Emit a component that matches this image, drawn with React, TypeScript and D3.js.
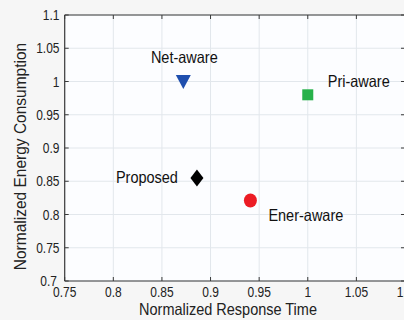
import React, { useEffect } from 'react';
import * as d3 from 'd3';

// schemes and their normalized (response time, energy) values
const schemes = ['Net-aware', 'Pri-aware', 'Proposed', 'Ener-aware'];
const responseTime = [0.872, 1.0, 0.886, 0.941];
const energy = [1.0, 0.98, 0.855, 0.821];
const markerShapes = ['triangle', 'square', 'diamond', 'circle'];
const markerColors = ['#1f4fae', '#27b14a', '#000000', '#ec1c24'];

const xTicks = [0.75, 0.8, 0.85, 0.9, 0.95, 1, 1.05, 1.1];
const yTicks = [0.7, 0.75, 0.8, 0.85, 0.9, 0.95, 1, 1.05, 1.1];

const W = 404;
const H = 320;
const left = 64.7;
const right = 405;
const top = 15;
const bottom = 281;

const font = 'Arial, "Liberation Sans", Helvetica, sans-serif';

// label offsets relative to each marker (anchor, dx, dy)
const labelPos: [string, number, number][] = [
  ['middle', 1, -19],
  ['start', 20, -8],
  ['end', -19, 5],
  ['start', 18, 20],
];

function Marker({ shape, x, y, color }: { shape: string; x: number; y: number; color: string }) {
  if (shape === 'triangle') {
    const p = d3.path();
    p.moveTo(x - 7.5, y - 6.5);
    p.lineTo(x + 7.5, y - 6.5);
    p.lineTo(x, y + 7.5);
    p.closePath();
    return <path d={p.toString()} fill={color} />;
  }
  if (shape === 'square') {
    return <rect x={x - 5.5} y={y - 5.5} width={11} height={11} fill={color} />;
  }
  if (shape === 'diamond') {
    const p = d3.path();
    p.moveTo(x, y - 8.5);
    p.lineTo(x + 6.5, y);
    p.lineTo(x, y + 8.5);
    p.lineTo(x - 6.5, y);
    p.closePath();
    return <path d={p.toString()} fill={color} />;
  }
  return <ellipse cx={x} cy={y} rx={6.5} ry={7} fill={color} />;
}

export default function App() {
  useEffect(() => {
    document.body.style.margin = '0';
  }, []);

  const x = d3.scaleLinear().domain([0.75, 1.1]).range([left, right]);
  const y = d3.scaleLinear().domain([0.7, 1.1]).range([bottom, top]);
  const fmt = (d: number) => String(+d.toFixed(2));

  return (
    <svg width={W} height={H} style={{ display: 'block', background: '#f6f6f6' }}>
      <rect x={left} y={top} width={right - left} height={bottom - top} fill="#fcfdff" />
      {/* grid */}
      {xTicks.map(t => (
        <line key={'gx' + t} x1={x(t)} x2={x(t)} y1={top} y2={bottom} stroke="#e2e7ec" strokeWidth={1} />
      ))}
      {yTicks.map(t => (
        <line key={'gy' + t} x1={left} x2={right} y1={y(t)} y2={y(t)} stroke="#e2e7ec" strokeWidth={1} />
      ))}
      {/* box */}
      <line x1={left} x2={right} y1={bottom} y2={bottom} stroke="#3a3a3a" strokeWidth={1.2} />
      <line x1={left} x2={right} y1={top} y2={top} stroke="#3a3a3a" strokeWidth={1.2} />
      <line x1={left} x2={left} y1={top} y2={bottom} stroke="#3a3a3a" strokeWidth={1.2} />
      <line x1={right} x2={right} y1={top} y2={bottom} stroke="#3a3a3a" strokeWidth={1.2} />
      {/* ticks */}
      {xTicks.map(t => (
        <g key={'tx' + t}>
          <line x1={x(t)} x2={x(t)} y1={bottom} y2={bottom - 4} stroke="#3a3a3a" />
          <line x1={x(t)} x2={x(t)} y1={top} y2={top + 4} stroke="#3a3a3a" />
          <text
            transform={`translate(${x(t)},297) scale(1,1.2)`}
            textAnchor="middle"
            fontFamily={font}
            fontSize={12}
            fill="#222"
          >
            {fmt(t)}
          </text>
        </g>
      ))}
      {yTicks.map(t => (
        <g key={'ty' + t}>
          <line x1={left} x2={left + 4} y1={y(t)} y2={y(t)} stroke="#3a3a3a" />
          <line x1={right} x2={right - 4} y1={y(t)} y2={y(t)} stroke="#3a3a3a" />
          <text
            transform={`translate(${t === 0.7 ? 57 : 59.5},${y(t) + 5}) scale(1,1.2)`}
            textAnchor="end"
            fontFamily={font}
            fontSize={12}
            fill="#222"
          >
            {fmt(t)}
          </text>
        </g>
      ))}
      {/* axis titles */}
      <text
        transform="translate(228,315) scale(1,1.15)"
        textAnchor="middle"
        fontFamily={font}
        fontSize={14.5}
        fill="#222"
      >
        Normalized Response Time
      </text>
      <text
        transform="translate(26,156.5) rotate(-90) scale(1.07,1.15)"
        textAnchor="middle"
        fontFamily={font}
        fontSize={14.5}
        fill="#222"
      >
        Normalized Energy Consumption
      </text>
      {/* markers and labels */}
      {schemes.map((s, i) => {
        const cx = x(responseTime[i]);
        const cy = y(energy[i]);
        const [anchor, dx, dy] = labelPos[i];
        return (
          <g key={s}>
            <Marker shape={markerShapes[i]} x={cx} y={cy} color={markerColors[i]} />
            <text
              transform={`translate(${cx + dx},${cy + dy}) scale(1,1.15)`}
              textAnchor={anchor}
              fontFamily={font}
              fontSize={14.5}
              fill="#111"
            >
              {s}
            </text>
          </g>
        );
      })}
    </svg>
  );
}
